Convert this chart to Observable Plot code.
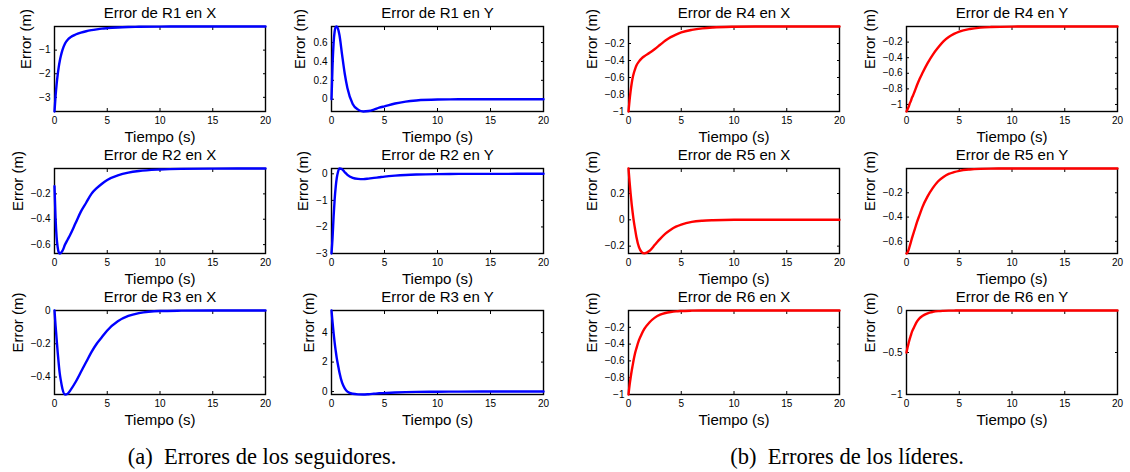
<!DOCTYPE html>
<html><head><meta charset="utf-8">
<script src="https://cdn.jsdelivr.net/npm/d3@7"></script>
<script src="https://cdn.jsdelivr.net/npm/@observablehq/plot@0.6"></script>
<style>
body{margin:0;background:#fff;}
#root{position:relative;width:1130px;height:472px;overflow:hidden;background:#fff;font-family:"Liberation Sans",Arial,sans-serif;}
.panel{position:absolute;}
.cap{position:absolute;font-family:"Liberation Serif",serif;font-size:22.5px;white-space:nowrap;transform:translate(-50%,-50%);color:#000;line-height:1;}
</style></head><body><div id="root"></div>
<script>
// ---- data ----
const time = [0, 0.1, 0.2, 0.3, 0.4, 0.5, 0.6, 0.75, 1, 1.25, 1.5, 2, 2.5, 3, 3.5, 4, 4.5, 5, 6, 7, 8, 10, 12, 15, 20];
const r1x = [-3.6, -2.95, -2.45, -2.05, -1.72, -1.46, -1.25, -1.0, -0.72, -0.56, -0.46, -0.34, -0.26, -0.2, -0.155, -0.12, -0.09, -0.07, -0.04, -0.022, -0.012, -0.004, -0.001, 0, 0];
const r1y = [0, 0.36, 0.6, 0.72, 0.765, 0.77, 0.75, 0.68, 0.47, 0.27, 0.12, -0.05, -0.11, -0.13, -0.125, -0.11, -0.09, -0.075, -0.045, -0.025, -0.013, -0.003, -0.001, 0, 0];
const r2x = [-0.14, -0.39, -0.54, -0.62, -0.66, -0.67, -0.665, -0.65, -0.6, -0.56, -0.52, -0.43, -0.34, -0.27, -0.2, -0.155, -0.12, -0.09, -0.055, -0.033, -0.02, -0.008, -0.003, -0.001, 0];
const r2y = [-3, -2.4, -1.6, -0.95, -0.48, -0.15, 0.05, 0.2, 0.17, 0.06, -0.04, -0.15, -0.19, -0.2, -0.18, -0.155, -0.13, -0.105, -0.07, -0.045, -0.028, -0.01, -0.004, -0.001, 0];
const r3x = [0, -0.09, -0.17, -0.25, -0.32, -0.38, -0.42, -0.47, -0.505, -0.5, -0.48, -0.43, -0.37, -0.31, -0.25, -0.2, -0.16, -0.12, -0.065, -0.033, -0.016, -0.003, -0.001, 0, 0];
const r3y = [5.5, 4.7, 3.95, 3.3, 2.75, 2.25, 1.85, 1.3, 0.6, 0.22, 0.0, -0.15, -0.19, -0.2, -0.18, -0.15, -0.12, -0.1, -0.065, -0.04, -0.025, -0.01, -0.004, -0.001, 0];
const r4x = [-1, -0.87, -0.76, -0.67, -0.6, -0.55, -0.51, -0.46, -0.41, -0.375, -0.35, -0.31, -0.265, -0.215, -0.165, -0.125, -0.095, -0.07, -0.04, -0.022, -0.012, -0.003, 0, 0, 0];
const r4y = [-1.09, -1.06, -1.03, -0.99, -0.96, -0.92, -0.89, -0.84, -0.75, -0.67, -0.6, -0.47, -0.36, -0.27, -0.19, -0.135, -0.095, -0.065, -0.032, -0.015, -0.007, -0.001, 0, 0, 0];
const r5x = [0.39, 0.29, 0.2, 0.12, 0.05, -0.01, -0.06, -0.13, -0.21, -0.245, -0.255, -0.235, -0.19, -0.145, -0.105, -0.075, -0.052, -0.036, -0.016, -0.007, -0.003, 0, 0, 0, 0];
const r5y = [-0.7, -0.69, -0.67, -0.64, -0.61, -0.58, -0.55, -0.51, -0.44, -0.38, -0.32, -0.23, -0.16, -0.105, -0.07, -0.045, -0.03, -0.019, -0.008, -0.003, -0.001, 0, 0, 0, 0];
const r6x = [-1, -0.89, -0.8, -0.72, -0.65, -0.58, -0.52, -0.45, -0.35, -0.28, -0.22, -0.14, -0.085, -0.05, -0.03, -0.018, -0.01, -0.006, -0.002, 0, 0, 0, 0, 0, 0];
const r6y = [-0.5, -0.44, -0.39, -0.34, -0.3, -0.26, -0.23, -0.19, -0.13, -0.09, -0.065, -0.033, -0.017, -0.008, -0.004, -0.002, -0.001, 0, 0, 0, 0, 0, 0, 0, 0];

const titles = ["Error de R1 en X", "Error de R1 en Y", "Error de R2 en X", "Error de R2 en Y", "Error de R3 en X", "Error de R3 en Y",
                "Error de R4 en X", "Error de R4 en Y", "Error de R5 en X", "Error de R5 en Y", "Error de R6 en X", "Error de R6 en Y"];
const yDomains = [[-3.6, 0], [-0.13, 0.77], [-0.67, 0], [-3, 0.2], [-0.505, 0], [-0.2, 5.5],
                  [-1, 0], [-1.09, 0], [-0.256, 0.39], [-0.7, 0], [-1, 0], [-1, 0]];
const yTicks = [[-3, -2, -1], [0, 0.2, 0.4, 0.6], [-0.6, -0.4, -0.2], [-3, -2, -1, 0], [-0.4, -0.2, 0], [0, 2, 4],
                [-1, -0.8, -0.6, -0.4, -0.2], [-1, -0.8, -0.6, -0.4, -0.2], [-0.2, 0, 0.2], [-0.6, -0.4, -0.2], [-1, -0.8, -0.6, -0.4, -0.2], [-1, -0.5, 0]];
const xTicks = [0, 5, 10, 15, 20];
const seriesList = [r1x, r1y, r2x, r2y, r3x, r3y, r4x, r4y, r5x, r5y, r6x, r6y];
const xLabel = "Tiempo (s)";
const yLabel = "Error (m)";
const captions = ["(a)\u2002Errores de los seguidores.", "(b)\u2002Errores de los líderes."];

// ---- layout ----
const colX = [[54, 265], [331, 543], [628, 839], [906, 1117]];
const rowY = [[26, 111], [168, 253], [310, 394]];
const mL = 50, mR = 12, mT = 22, mB = 36;
const fmt = d => d === 0 ? "0" : (d < 0 ? "\u2212" : "") + String(Math.abs(d));
const ctx = document.createElement("canvas").getContext("2d");
ctx.font = "10px 'Liberation Sans'";
const root = document.getElementById("root");

seriesList.forEach((vals, i) => {
  const group = i < 6 ? 0 : 1;
  const k = i % 6;
  const col = group * 2 + (k % 2);
  const row = Math.floor(k / 2);
  const [x0, x1] = colX[col], [y0, y1] = rowY[row];
  const fw = x1 - x0, fh = y1 - y0;
  const color = group === 0 ? "#0000ff" : "#ff0000";
  const rows = time.map((t, j) => ({t, v: vals[j]}));
  const maxW = Math.max(...yTicks[i].map(d => ctx.measureText(fmt(d)).width));
  const off = 4 + maxW + 13;
  const svg = Plot.plot({
    width: fw + mL + mR, height: fh + mT + mB,
    marginLeft: mL, marginRight: mR, marginTop: mT, marginBottom: mB,
    style: {background: "transparent", overflow: "visible", fontFamily: "'Liberation Sans', Arial, sans-serif", color: "black"},
    x: {domain: [0, 20]},
    y: {domain: yDomains[i]},
    marks: [
      Plot.frame({stroke: "black", strokeWidth: 1.4}),
      Plot.axisX({ticks: xTicks, tickSize: -3, tickPadding: 8, tickFormat: fmt, label: null, fontSize: 10}),
      Plot.axisX({anchor: "top", ticks: xTicks, tickSize: -3, fill: "none", label: null}),
      Plot.axisY({ticks: yTicks[i], tickSize: -3, tickPadding: 7, tickFormat: fmt, label: null, fontSize: 10}),
      Plot.axisY({anchor: "right", ticks: yTicks[i], tickSize: -3, fill: "none", label: null}),
      Plot.line(rows, {x: "t", y: "v", stroke: color, strokeWidth: 2.4, curve: "monotone-x"}),
      Plot.text([titles[i]], {frameAnchor: "top", lineAnchor: "middle", dy: -13, fontSize: 15}),
      Plot.text([xLabel], {frameAnchor: "bottom", lineAnchor: "middle", dy: 26, fontSize: 15}),
      Plot.text([yLabel], {frameAnchor: "left", lineAnchor: "middle", dx: -off, rotate: -90, fontSize: 15})
    ]
  });
  const div = document.createElement("div");
  div.className = "panel";
  div.style.left = (x0 - mL) + "px";
  div.style.top = (y0 - mT) + "px";
  div.style.width = (fw + mL + mR) + "px";
  div.appendChild(svg);
  root.appendChild(div);
});

const capX = [262, 847];
captions.forEach((c, i) => {
  const d = document.createElement("div");
  d.className = "cap";
  d.style.left = capX[i] + "px";
  d.style.top = "457px";
  d.textContent = c;
  root.appendChild(d);
});
</script>
</body></html>
